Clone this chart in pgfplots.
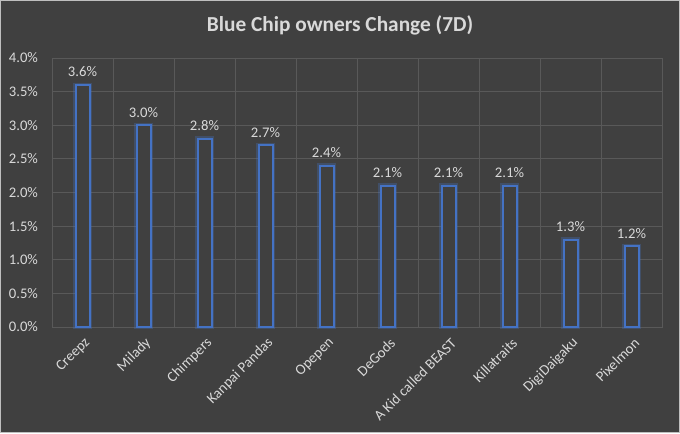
\documentclass[border=0pt]{standalone}
\usepackage{pgfplots}
\pgfplotsset{compat=1.18}
\usepackage{fontspec}
\setmainfont{Carlito}
\definecolor{bg}{HTML}{404040}
\definecolor{gridc}{HTML}{595959}
\definecolor{txt}{HTML}{D9D9D9}
\definecolor{barblue}{HTML}{4472C4}
\definecolor{framec}{HTML}{BFBFBF}

\begin{document}
\begin{tikzpicture}
\useasboundingbox (0,0) rectangle (510pt,324.75pt);
\fill[bg] (0,0) rectangle (510pt,324.75pt);
\draw[framec, line width=1pt] (0.5pt,0.5pt) rectangle (509.5pt,324.25pt);
\node[txt, font=\fontsize{16}{19}\selectfont\bfseries] at (255pt,306pt) {Blue Chip owners Change (7D)};
\begin{axis}[
    at={(39pt,79.5pt)}, anchor=south west,
    scale only axis, width=457.5pt, height=201.75pt,
    xmin=-0.5, xmax=9.5, ymin=0, ymax=4,
    ytick={0,0.5,1,1.5,2,2.5,3,3.5,4},
    /pgf/number format/assume math mode=true,
    yticklabel={\pgfmathprintnumber[fixed,fixed zerofill,precision=1]{\tick}\%},
    xtick={0,...,9},
    xticklabels={Creepz, Milady, Chimpers, Kanpai Pandas, Opepen, DeGods,
                 A Kid called BEAST, Killatraits, DigiDaigaku, Pixelmon},
    minor xtick={-0.5,0.5,...,9.5},
    xminorgrids, ymajorgrids,
    major grid style={gridc, line width=0.75pt},
    minor grid style={gridc, line width=0.75pt},
    axis line style={gridc, line width=0.75pt},
    major tick length=0pt, minor tick length=0pt,
    every tick label/.append style={txt, font=\fontsize{11}{13}\selectfont},
    yticklabel style={xshift=-7pt},
    xticklabel style={rotate=45, anchor=east, yshift=-10pt, xshift=-1pt},
    clip=false,
]
  \addplot[ybar, bar width=10.5pt, bar shift=0pt, draw=barblue, draw opacity=0.3,
           line width=3.5pt, fill=none]
    coordinates {(0,3.6)(1,3.0)(2,2.8)(3,2.7)(4,2.4)(5,2.1)(6,2.1)(7,2.1)(8,1.3)(9,1.2)};
  \addplot[ybar, bar width=10.5pt, bar shift=0pt, draw=barblue, line width=1.5pt, fill=bg,
           nodes near coords={\pgfmathprintnumber[fixed,fixed zerofill,precision=1]{\pgfplotspointmeta}\%},
           every node near coord/.append style={txt, font=\fontsize{11}{13}\selectfont, yshift=2pt}]
    coordinates {(0,3.6)(1,3.0)(2,2.8)(3,2.7)(4,2.4)(5,2.1)(6,2.1)(7,2.1)(8,1.3)(9,1.2)};
\end{axis}
\end{tikzpicture}
\end{document}
